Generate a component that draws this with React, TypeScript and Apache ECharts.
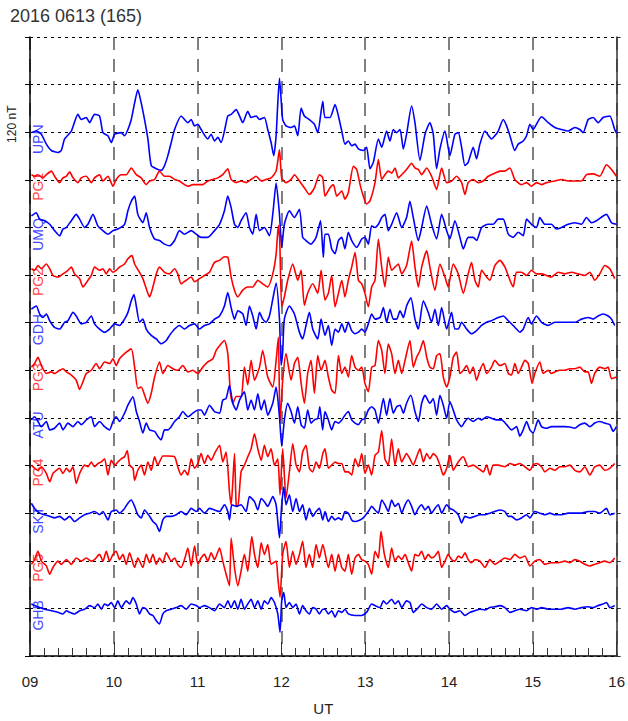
import React, { useEffect, useRef } from "react";
import * as echarts from "echarts";

type Pt = [number, number]; // [minutes after 09:00 UT, deflection in nT]

const TITLE = "2016 0613 (165)";
const SCALE_NT = 120; // nT per grid step
const HOUR_MIN = 9;
const HOUR_MAX = 16;
const ROWS = 13;

const stationNames = ["UPN", "PG1", "UMQ", "PG2", "GDH", "PG3", "ATU", "PG4", "SKT", "PG5", "GHB"];
const stationOffsets = [11, 10, 9, 8, 7, 6, 5, 4, 3, 2, 1];
const stationKinds = ["ground", "pg", "ground", "pg", "ground", "pg", "ground", "pg", "ground", "pg", "ground"];

const upn: Pt[] = [
  [1.0,-1],[4.5,3],[8.1,-5],[11.7,-30],[15.3,-46],[20.0,-51],[22.4,-46],[24.8,-17],[29.6,3],[34.3,45],[36.7,32],[40.3,37],[42.7,24],[46.2,45],[49.8,41],[52.2,-1],[55.8,-9],[58.2,-26],[60.6,-5],[65.3,-1],[67.7,-9],[70.1,7],[72.5,32],[74.9,74],[77.2,107],[79.6,74],[82.0,32],[84.4,-17],[86.8,-84],[90.4,-92],[93.9,-96],[96.3,-84],[98.7,-59],[101.1,-26],[103.5,7],[108.2,41],[110.6,32],[113.0,24],[115.4,32],[117.8,16],[120.2,20],[122.5,7],[127.3,-17],[129.7,-5],[132.1,-22],[134.5,-13],[136.8,-26],[139.2,3],[141.6,41],[144.0,45],[147.6,57],[150.0,41],[152.3,24],[155.9,53],[158.3,37],[161.9,41],[164.3,32],[167.8,37],[170.2,7],[172.6,-26],[174.5,-59],[176.2,-9],[177.4,74],[178.6,136],[179.8,82],[180.9,32],[183.3,16],[186.9,12],[189.3,16],[191.7,-9],[194.1,61],[196.4,41],[200.0,32],[203.6,20],[206.0,-1],[209.6,78],
  [211.2,37],[214.8,37],[218.4,70],[220.8,41],[223.2,3],[225.5,-30],[227.9,-22],[230.3,-34],[232.7,-30],[235.1,-42],[238.6,-46],[241.0,-38],[243.4,-92],[245.8,-76],[249.4,-17],[251.8,-38],[255.3,3],[257.7,-22],[260.1,7],[262.5,-1],[264.9,7],[267.3,-42],[269.6,-5],[273.2,66],[275.6,24],[279.2,-71],[282.8,-5],[286.3,24],[288.7,-5],[291.1,-92],[293.5,-42],[297.1,3],[300.6,-59],[304.2,-5],[306.6,-1],[309.0,-38],[311.4,-84],[313.7,-76],[317.3,-38],[319.7,-67],[322.1,-30],[325.7,3],[330.4,-17],[332.8,-9],[335.2,3],[338.8,32],[341.2,16],[343.6,-9],[347.1,-46],[349.5,-30],[353.1,-22],[355.5,-9],[357.9,20],[360.2,7],[363.8,28],[366.2,39],[371.0,24],[375.7,12],[380.5,7],[385.3,3],[390.0,12],[393.6,7],[396.0,-1],[399.6,32],[403.2,37],[406.7,24],[410.3,37],[415.1,41],[418.6,7],[420.0,-3]
];

const pg1: Pt[] = [
  [1.0,13],[3.3,9],[5.7,13],[9.3,5],[11.7,13],[15.3,22],[17.6,9],[21.2,-7],[23.6,5],[26.0,9],[28.4,20],[30.8,5],[34.3,-7],[36.7,5],[40.3,9],[43.9,-7],[46.2,5],[49.8,13],[52.2,-3],[55.8,9],[59.4,-16],[61.7,1],[65.3,13],[68.9,13],[72.5,30],[76.1,13],[79.6,5],[83.2,-12],[85.6,-3],[89.2,1],[92.7,22],[96.3,9],[99.9,9],[103.5,1],[107.0,-3],[110.6,-12],[113.0,-16],[116.6,-12],[120.2,-12],[123.7,-12],[127.3,-3],[130.9,1],[134.5,5],[138.0,13],[141.6,28],[144.0,1],[147.6,-7],[151.1,-3],[154.7,-7],[158.3,1],[161.9,9],[165.5,-3],[169.0,1],[172.6,5],[176.2,22],[178.6,76],[180.2,5],[183.3,-7],[186.9,1],[189.3,13],[192.9,-3],[196.4,-20],[200.0,-37],[203.6,-20],[207.2,13],[209.6,5],
  [211.2,-41],[214.8,-20],[217.2,-12],[219.6,-41],[223.2,-28],[225.5,-49],[227.9,-32],[231.5,34],[233.9,26],[236.3,-12],[238.6,-41],[241.0,-61],[243.4,-53],[247.0,-7],[249.4,51],[251.8,1],[254.1,13],[256.5,22],[258.9,17],[261.3,30],[263.7,5],[266.1,13],[269.6,26],[273.2,42],[275.6,30],[278.0,26],[280.4,13],[284.0,30],[287.5,9],[291.1,-24],[294.7,30],[298.3,-7],[301.8,-3],[305.4,9],[309.0,-7],[311.4,-37],[313.7,-7],[317.3,1],[320.9,-7],[324.5,-3],[328.0,9],[332.8,17],[336.4,22],[340.0,22],[343.6,30],[347.1,1],[351.9,-12],[355.5,-7],[359.0,-16],[362.6,-7],[366.2,-12],[369.8,-7],[375.7,-3],[380.5,1],[385.3,-3],[390.0,-3],[394.8,-3],[398.4,13],[403.2,15],[407.9,9],[412.7,38],[416.3,26],[419.8,9]
];

const umq: Pt[] = [
  [1.0,29],[4.5,37],[6.9,21],[10.5,17],[14.1,8],[17.6,-8],[21.2,-21],[23.6,-4],[26.0,0],[29.6,17],[33.1,33],[35.5,21],[39.1,0],[41.5,8],[45.1,33],[48.6,4],[52.2,-8],[55.8,-17],[59.4,-8],[62.9,-4],[67.7,8],[70.1,42],[72.5,66],[74.9,79],[77.2,33],[80.8,12],[83.2,37],[85.6,0],[89.2,-29],[92.7,-33],[96.3,-42],[99.9,-46],[103.5,-33],[107.0,-8],[110.6,-17],[115.4,-8],[119.0,-17],[122.5,-25],[127.3,-25],[132.1,-8],[135.7,8],[139.2,42],[141.6,79],[144.0,50],[146.4,8],[148.8,0],[151.1,17],[154.7,37],[157.1,0],[159.5,-17],[161.9,33],[164.3,-8],[167.8,0],[171.4,-21],[173.8,33],[176.2,112],[178.6,33],[180.2,-50],[182.1,8],[185.7,42],[189.3,25],[192.9,46],[195.2,-25],[197.6,-33],[201.2,-42],[204.8,-25],[208.0,17],[210.0,-75],
  [211.2,-17],[213.6,-17],[216.0,-54],[218.4,-66],[220.8,-33],[223.2,-25],[225.5,-54],[227.9,-12],[230.3,-33],[233.9,-50],[237.5,-29],[239.8,-25],[242.2,-42],[244.6,4],[247.0,0],[249.4,8],[251.8,25],[254.1,33],[256.5,-8],[258.9,8],[262.5,37],[266.1,0],[269.6,25],[272.0,66],[274.4,25],[278.0,-33],[280.4,0],[284.0,54],[287.5,8],[291.1,-29],[294.7,33],[298.3,-8],[300.6,-29],[304.2,17],[307.8,-25],[310.2,-54],[313.7,-25],[317.3,-25],[319.7,-33],[323.3,0],[328.0,8],[331.6,8],[335.2,21],[338.8,21],[342.4,-17],[345.9,-25],[349.5,-12],[353.1,-21],[355.5,21],[359.0,8],[362.6,0],[365.0,25],[368.6,8],[373.3,8],[376.9,-4],[380.5,0],[385.3,8],[390.0,12],[394.8,8],[398.4,25],[402.0,12],[405.5,17],[410.3,29],[412.7,33],[416.3,12],[419.8,8]
];

const pg2: Pt[] = [
  [1.0,16],[3.3,12],[5.7,24],[8.1,16],[11.7,28],[14.1,16],[16.4,-1],[20.0,-5],[23.6,3],[27.2,12],[29.6,20],[31.9,3],[35.5,-9],[37.9,-30],[41.5,-13],[43.9,-1],[46.2,20],[49.8,12],[52.2,16],[54.6,3],[57.0,16],[59.4,7],[61.7,12],[64.1,20],[67.7,28],[70.1,41],[73.0,49],[74.9,28],[78.4,7],[80.8,-9],[83.2,-34],[85.6,-55],[88.0,-30],[90.4,3],[92.7,20],[96.3,7],[99.9,3],[103.5,16],[105.8,3],[108.2,-22],[111.8,-13],[115.4,-5],[117.8,-17],[121.3,-9],[124.9,-1],[128.5,7],[132.1,32],[135.7,37],[139.2,46],[141.6,45],[144.0,-5],[146.4,-38],[148.8,-55],[152.3,-38],[155.9,-30],[159.5,-30],[163.1,-13],[166.6,-22],[170.2,-30],[173.8,3],[176.2,53],[177.8,125],[178.8,86],[180.2,-80],[182.1,-55],[184.5,-13],[188.1,28],[191.7,-13],[194.1,12],[196.4,-76],[198.8,-46],[202.4,-22],[206.0,-46],[208.4,12],
  [211.2,-63],[213.6,-46],[216.0,-1],[218.4,-80],[220.8,-46],[223.2,-13],[225.5,-55],[227.9,-13],[230.3,20],[232.7,57],[235.1,-13],[237.5,-22],[239.8,-46],[242.2,-80],[244.6,-30],[247.0,-13],[249.4,90],[251.8,20],[254.1,-30],[256.5,45],[258.9,12],[261.3,20],[263.7,28],[266.1,3],[269.6,24],[273.2,86],[275.6,20],[278.0,-30],[280.4,20],[284.0,61],[286.3,20],[289.9,-38],[293.5,28],[297.1,-5],[299.4,-30],[303.0,28],[306.6,3],[310.2,-46],[313.7,3],[316.1,32],[318.5,-13],[320.9,-30],[323.3,12],[326.9,-5],[329.2,-13],[332.8,24],[336.4,37],[340.0,20],[343.6,-13],[345.9,-30],[348.3,7],[351.9,7],[355.5,-1],[359.0,12],[362.6,3],[366.2,3],[369.8,-1],[373.3,-5],[378.1,7],[382.9,3],[387.7,7],[392.4,3],[397.2,-1],[400.8,7],[404.3,-13],[407.9,3],[411.5,24],[415.1,16],[418.6,-9]
];

const gdh: Pt[] = [
  [1.0,34],[4.5,42],[6.9,22],[9.3,13],[11.7,22],[14.1,5],[17.6,-12],[21.2,-16],[24.8,1],[27.2,5],[30.8,26],[33.1,17],[36.7,-3],[40.3,1],[43.9,17],[46.2,-3],[49.8,-16],[53.4,-24],[57.0,-16],[60.6,-3],[64.1,-7],[67.7,9],[70.1,26],[72.5,55],[74.4,71],[76.1,42],[78.4,1],[80.8,9],[83.2,-16],[86.8,-32],[90.4,-41],[93.9,-53],[97.5,-45],[99.9,-32],[103.5,-16],[107.0,-7],[110.6,-16],[114.2,-7],[117.8,-3],[121.3,-16],[124.9,-7],[128.5,-3],[132.1,9],[135.7,17],[139.2,42],[141.6,76],[144.0,38],[146.4,9],[148.8,30],[152.3,22],[154.7,-7],[157.1,42],[159.5,17],[161.9,-16],[164.3,26],[166.6,9],[169.0,1],[171.4,17],[173.8,59],[176.2,100],[178.6,9],[179.8,-107],[180.9,-74],[182.1,9],[185.7,42],[189.3,22],[192.9,-24],[195.2,-41],[197.6,-7],[200.0,26],[202.4,-16],[206.0,-41],[208.4,9],
  [211.2,-32],[213.6,-7],[216.0,-57],[218.4,-16],[220.8,-24],[223.2,-3],[225.5,-24],[227.9,1],[230.3,-20],[232.7,-28],[235.1,-24],[237.5,-16],[239.8,-24],[242.2,-3],[244.6,22],[247.0,9],[250.6,13],[253.0,38],[255.3,1],[257.7,34],[260.1,9],[262.5,9],[264.9,30],[267.3,13],[269.6,42],[272.7,63],[275.6,9],[278.0,-16],[281.6,55],[285.1,26],[287.5,1],[289.9,34],[292.3,-7],[294.7,38],[298.3,-16],[301.8,26],[304.2,-16],[306.6,-16],[309.0,1],[312.6,-16],[316.1,-28],[319.7,-20],[323.3,-7],[326.9,1],[330.4,5],[335.2,13],[338.8,17],[342.4,5],[345.9,-7],[348.3,-16],[350.7,-24],[353.1,-16],[356.7,13],[359.0,-3],[362.6,17],[366.2,1],[371.0,-7],[375.7,1],[380.5,1],[385.3,1],[390.0,1],[394.8,9],[399.6,13],[403.2,9],[406.7,17],[410.3,22],[413.9,17],[416.3,9],[418.6,-7]
];

const pg3: Pt[] = [
  [1.0,8],[3.3,17],[5.7,33],[8.1,12],[11.7,-8],[15.3,-4],[17.6,-8],[21.2,0],[23.6,4],[26.0,-4],[29.6,-12],[33.1,-25],[35.5,-48],[37.9,-29],[40.3,-8],[43.9,0],[47.4,17],[49.8,4],[53.4,21],[57.0,17],[59.4,29],[61.7,12],[64.1,29],[67.7,42],[72.5,54],[74.9,8],[77.2,-46],[79.6,-42],[82.0,-62],[84.4,-83],[86.8,-58],[89.2,-17],[92.7,21],[95.1,-8],[98.7,12],[102.3,4],[105.8,0],[109.4,12],[113.0,-4],[116.6,0],[120.2,-8],[123.7,8],[127.3,21],[130.9,29],[133.3,50],[135.7,62],[139.2,75],[141.6,42],[143.5,-58],[145.2,-83],[147.6,-66],[151.1,-66],[153.5,8],[155.9,-37],[158.3,25],[160.7,-25],[164.3,8],[166.6,50],[170.2,-17],[173.8,-42],[176.2,25],[177.8,83],[179.0,-133],[180.9,-25],[183.3,42],[186.9,-25],[189.3,17],[191.7,33],[194.1,-33],[196.4,-83],[198.8,-8],[201.2,25],[203.6,-58],[206.0,37],[208.4,0],
  [211.2,25],[213.6,-17],[216.0,-50],[218.4,-58],[220.8,37],[223.2,-8],[225.5,8],[227.9,-17],[230.3,37],[232.7,8],[235.1,0],[237.5,8],[239.8,-33],[242.2,-54],[244.6,8],[247.0,12],[249.4,75],[251.8,50],[254.1,-8],[256.5,66],[258.9,42],[261.3,-8],[263.7,25],[266.1,-8],[268.5,25],[272.0,75],[274.4,8],[276.8,33],[279.2,50],[281.6,75],[284.0,33],[286.3,8],[288.7,4],[291.1,37],[293.5,42],[295.9,-17],[298.3,-42],[300.6,-17],[303.0,33],[305.4,46],[307.8,-8],[310.2,0],[312.6,12],[314.9,-8],[317.3,8],[319.7,-25],[322.1,0],[324.5,17],[326.9,-8],[330.4,8],[332.8,25],[336.4,12],[340.0,17],[342.4,-8],[344.7,-12],[347.1,17],[349.5,-8],[351.9,8],[354.3,25],[356.7,17],[359.5,-33],[361.4,-8],[365.0,21],[367.4,-8],[371.0,0],[373.3,-8],[375.7,-4],[379.3,0],[382.9,0],[386.5,4],[390.0,4],[393.6,8],[397.2,-4],[399.6,-4],[402.0,-33],[404.3,-8],[407.9,8],[411.5,4],[413.9,8],[416.3,-21],[419.8,-17]
];

const atu: Pt[] = [
  [1.0,-5],[3.3,3],[5.7,-9],[8.1,-22],[11.7,-9],[14.1,-30],[17.6,-26],[21.2,-13],[23.6,-30],[27.2,-13],[30.8,-22],[34.3,-9],[36.7,-17],[40.3,-5],[43.9,3],[46.2,-22],[49.8,-9],[53.4,-22],[57.0,-30],[59.4,-9],[61.7,3],[64.1,-9],[67.7,12],[70.1,32],[73.7,53],[76.1,16],[78.4,-9],[80.8,-38],[83.2,-13],[85.6,-30],[89.2,-34],[91.5,-46],[93.9,-55],[96.3,-30],[98.7,-30],[101.1,-22],[103.5,-9],[107.0,3],[109.4,16],[113.0,3],[116.6,12],[120.2,20],[122.5,20],[124.9,7],[128.5,32],[132.1,16],[135.7,12],[138.0,45],[140.4,49],[142.8,82],[145.2,37],[147.6,20],[150.0,45],[153.5,66],[155.9,20],[158.3,45],[160.7,20],[163.1,61],[165.5,20],[167.8,45],[170.2,7],[173.8,37],[176.2,78],[178.6,3],[180.2,-71],[182.1,-5],[184.5,37],[186.9,16],[189.3,-13],[191.7,28],[194.1,-17],[196.4,-26],[198.8,20],[201.2,-13],[203.6,-5],[206.0,-1],[207.5,28],[209.5,-30],
  [211.2,16],[213.6,-5],[216.0,-30],[218.4,-9],[220.8,-13],[223.2,-5],[225.5,7],[227.9,16],[230.3,-5],[232.7,-13],[235.1,-17],[237.5,-5],[239.8,-1],[242.2,20],[244.6,28],[247.0,20],[249.4,-13],[253.0,49],[255.3,7],[257.7,49],[260.1,12],[262.5,28],[264.9,32],[267.3,12],[269.6,37],[272.7,57],[275.6,16],[278.0,-9],[280.4,37],[282.8,57],[286.3,37],[288.7,49],[291.1,7],[293.5,57],[295.9,32],[298.3,-1],[300.6,41],[303.0,20],[305.4,-5],[309.0,-22],[311.4,-9],[313.7,-1],[317.3,-9],[320.9,-1],[323.3,-5],[326.9,3],[330.4,-1],[334.0,-5],[337.6,-5],[341.2,-17],[344.7,-30],[348.3,-22],[350.7,-46],[353.1,-30],[355.5,-9],[357.9,-30],[360.2,-38],[363.8,-5],[366.2,-22],[369.8,-26],[373.3,-22],[378.1,-22],[382.9,-22],[386.5,-23],[390.0,-26],[393.6,-17],[397.2,-13],[400.8,-22],[404.3,-13],[407.9,-9],[411.5,-13],[415.1,-17],[417.5,-34],[419.8,-22]
];

const pg4: Pt[] = [
  [1.0,1],[3.3,-7],[5.7,-12],[8.1,-3],[11.7,-20],[14.1,-41],[16.4,-20],[18.8,-12],[21.2,-7],[23.6,-20],[26.0,-7],[28.4,-16],[30.8,-3],[33.1,-45],[35.5,-20],[39.1,1],[41.5,-3],[43.9,9],[46.2,-3],[48.6,5],[51.0,9],[53.4,17],[55.8,-24],[58.2,13],[60.6,1],[62.9,9],[65.3,17],[67.7,22],[69.6,38],[71.3,1],[73.7,-7],[74.9,-37],[77.2,-12],[79.6,1],[82.0,-24],[84.4,9],[86.8,-12],[89.2,22],[91.5,1],[95.1,24],[98.7,24],[103.5,22],[105.8,-3],[108.2,-24],[110.6,-12],[113.0,-24],[115.4,17],[117.8,-7],[120.2,5],[122.5,30],[124.9,5],[127.3,26],[129.7,13],[132.1,30],[135.7,51],[138.0,9],[140.4,34],[142.8,-66],[144.0,-99],[145.2,-41],[146.4,30],[147.6,-99],[148.8,-103],[151.1,-16],[153.5,1],[155.9,22],[158.3,42],[160.7,80],[163.1,42],[165.5,13],[167.8,51],[170.2,22],[172.6,42],[175.0,1],[177.4,17],[179.0,-74],[180.9,42],[183.3,-82],[185.7,-16],[188.1,55],[190.5,1],[192.9,-16],[195.2,34],[197.6,51],[200.0,-7],[202.4,-16],[204.8,9],[207.2,-7],[209.6,30],
  [211.2,42],[213.6,-7],[216.0,1],[218.4,9],[220.8,5],[223.2,5],[225.5,-16],[227.9,-16],[230.3,-24],[232.7,17],[235.1,-3],[237.5,30],[239.8,-20],[242.2,1],[244.6,-24],[247.0,26],[249.4,34],[251.8,88],[254.1,17],[256.5,1],[258.9,67],[261.3,1],[263.7,42],[266.1,9],[269.6,30],[272.0,17],[274.4,1],[276.8,22],[279.2,42],[281.6,9],[284.0,30],[286.3,17],[288.7,30],[291.1,22],[293.5,1],[295.9,-24],[298.3,-7],[300.6,26],[303.0,-12],[306.6,9],[310.2,22],[313.7,-3],[317.3,1],[320.9,-7],[324.5,-16],[326.9,1],[329.2,-24],[331.6,1],[335.2,1],[340.0,-3],[343.6,5],[347.1,1],[350.7,5],[354.3,-3],[357.9,-12],[360.2,1],[362.6,5],[366.2,-3],[368.6,-16],[372.2,-7],[375.7,-12],[379.3,-3],[382.9,-3],[386.5,1],[390.0,-12],[393.6,-16],[397.2,-3],[400.8,-24],[404.3,-3],[407.9,1],[411.5,-12],[415.1,-7],[418.6,5]
];

const skt: Pt[] = [
  [1.0,25],[3.3,12],[6.9,0],[10.5,-4],[14.1,-8],[17.6,-12],[21.2,-8],[24.8,-17],[28.4,-8],[31.9,-21],[35.5,-12],[39.1,-4],[42.7,0],[46.2,4],[49.8,-4],[52.2,4],[55.8,-17],[58.2,4],[61.7,8],[64.1,0],[67.7,12],[70.1,25],[72.5,33],[74.9,17],[77.2,-4],[79.6,-12],[82.0,8],[85.6,-8],[88.0,-21],[90.4,-29],[92.7,-46],[95.1,-17],[97.5,-8],[101.1,-8],[104.7,-4],[108.2,4],[111.8,-4],[115.4,12],[119.0,4],[121.3,12],[124.9,0],[128.5,12],[132.1,8],[135.7,4],[139.2,21],[141.6,4],[142.8,-17],[144.5,21],[147.6,17],[151.1,21],[154.7,4],[157.1,42],[160.7,29],[163.1,8],[165.5,37],[167.8,29],[170.2,17],[173.8,42],[176.2,21],[178.6,-62],[180.2,21],[181.7,66],[183.3,21],[185.7,46],[188.1,4],[190.5,37],[192.9,4],[195.2,21],[197.6,-17],[200.0,12],[202.4,-8],[204.8,4],[207.2,12],[209.6,-17],
  [211.2,4],[213.6,-21],[216.0,-8],[218.4,-17],[220.8,-12],[223.2,-17],[225.5,4],[227.9,0],[230.3,-17],[232.7,-21],[236.3,-17],[238.6,-12],[242.2,4],[244.6,17],[247.0,8],[249.4,0],[251.8,33],[254.1,21],[256.5,4],[258.9,33],[261.3,17],[263.7,25],[266.1,0],[268.5,21],[270.8,33],[273.2,17],[275.6,-4],[278.0,12],[280.4,21],[282.8,8],[285.1,17],[287.5,0],[289.9,12],[292.3,21],[294.7,0],[298.3,21],[300.6,12],[303.0,8],[306.6,-4],[309.0,-25],[311.4,-8],[314.9,-12],[318.5,-8],[322.1,-4],[325.7,-4],[329.2,0],[332.8,4],[336.4,8],[340.0,4],[342.4,-8],[344.7,-8],[348.3,-17],[351.9,-12],[355.5,-4],[357.9,-12],[361.4,4],[365.0,0],[368.6,-4],[372.2,0],[375.7,-4],[380.5,-4],[385.3,0],[390.0,0],[394.8,0],[399.6,4],[404.3,4],[407.9,0],[412.7,12],[415.1,-4],[418.6,0]
];

const pg5: Pt[] = [
  [1.0,-9],[3.3,3],[5.7,24],[8.1,-1],[11.7,-13],[14.1,-34],[16.4,-17],[20.0,-1],[22.4,-9],[26.0,3],[29.6,-9],[33.1,7],[36.7,-1],[40.3,7],[43.9,-1],[46.2,3],[49.8,16],[52.2,-1],[54.6,24],[57.0,-1],[59.4,16],[61.7,24],[64.1,3],[66.5,16],[68.9,-9],[71.3,20],[74.9,-17],[77.2,7],[80.8,-17],[83.2,16],[85.6,-5],[88.0,16],[90.4,-9],[92.7,7],[95.1,-5],[97.5,20],[101.1,-1],[103.5,7],[105.8,-9],[108.2,-17],[110.6,3],[113.0,32],[115.4,-13],[117.8,37],[120.2,-9],[122.5,7],[124.9,16],[127.3,-1],[129.7,20],[132.1,3],[135.7,32],[138.0,-1],[140.4,-34],[142.8,-63],[144.0,57],[146.4,-17],[148.8,-63],[151.1,-26],[153.5,16],[155.9,-26],[158.8,61],[160.7,16],[163.1,-17],[165.5,45],[167.8,16],[170.2,41],[172.6,-9],[176.2,-1],[177.4,-42],[179.0,-92],[180.9,16],[183.3,49],[185.7,-17],[188.1,24],[190.5,-9],[192.9,16],[195.2,49],[197.6,-17],[200.0,16],[202.4,-17],[204.8,41],[207.2,7],[209.6,41],
  [213.6,-17],[216.0,16],[218.4,-26],[220.8,16],[223.2,-17],[225.5,-26],[227.9,16],[230.3,-34],[232.7,7],[235.1,16],[237.5,3],[239.8,-1],[242.2,-9],[244.6,-34],[247.0,24],[249.4,7],[251.3,74],[253.7,16],[256.5,-17],[258.9,32],[261.3,-1],[263.7,12],[266.1,3],[268.5,16],[270.8,-5],[273.2,-26],[275.6,16],[278.0,12],[280.4,24],[282.8,3],[285.1,16],[287.5,7],[289.9,12],[292.3,24],[294.7,-17],[297.1,-1],[299.4,16],[301.8,3],[304.2,-1],[306.6,12],[309.0,7],[311.4,20],[313.7,3],[316.1,-5],[318.5,3],[322.1,-1],[325.7,-17],[329.2,3],[332.8,-9],[336.4,-1],[340.0,7],[343.6,3],[347.1,16],[350.7,7],[354.3,12],[357.9,-13],[361.4,-1],[365.0,3],[368.6,-9],[373.3,-5],[378.1,-5],[382.9,-1],[386.5,-5],[390.0,3],[393.6,-1],[397.2,-9],[400.8,-13],[404.3,-9],[407.9,-5],[411.5,-1],[415.1,-5],[418.6,7]
];

const ghb: Pt[] = [
  [1.0,11],[3.3,7],[6.9,2],[10.5,-2],[15.3,-6],[20.0,-10],[23.6,-14],[26.0,-6],[28.4,-10],[31.9,-14],[35.5,-6],[39.1,-2],[42.7,7],[46.2,2],[48.6,11],[51.0,-2],[53.4,11],[55.8,7],[58.2,15],[60.6,2],[62.9,19],[65.3,2],[68.9,19],[71.3,11],[73.7,27],[76.1,11],[78.4,-14],[80.8,2],[83.2,-2],[85.6,-14],[88.0,-18],[90.4,-31],[92.7,-39],[95.1,-14],[97.5,-6],[101.1,-2],[104.7,2],[108.2,7],[111.8,-2],[115.4,11],[119.0,7],[121.3,2],[124.9,7],[128.5,2],[132.1,-6],[135.7,11],[139.2,2],[141.6,19],[144.0,2],[146.4,19],[148.8,-2],[151.1,23],[153.5,-2],[155.9,11],[158.3,23],[160.7,2],[163.1,19],[165.5,-2],[167.8,19],[170.2,11],[172.6,27],[175.0,15],[177.4,-14],[179.0,-60],[180.2,19],[181.7,40],[183.3,2],[185.7,15],[188.1,2],[190.5,11],[192.9,-14],[195.2,7],[197.6,-6],[200.0,-14],[202.4,2],[204.8,-2],[207.2,-14],[209.6,-2],
  [211.2,-2],[213.6,-14],[216.0,-6],[218.4,-22],[220.8,-6],[223.2,-10],[225.5,-2],[227.9,-14],[232.7,-18],[237.5,-18],[241.0,-10],[244.6,11],[247.0,7],[250.6,2],[253.0,19],[255.3,11],[258.9,23],[261.3,11],[263.7,19],[266.1,2],[269.6,19],[272.0,15],[274.4,-10],[278.0,2],[280.4,11],[284.0,2],[287.5,-2],[291.1,11],[294.7,-2],[298.3,7],[300.6,-2],[304.2,-10],[307.8,-6],[311.4,-18],[314.9,-10],[318.5,-6],[322.1,-2],[325.7,-4],[329.2,2],[332.8,4],[336.4,7],[340.0,2],[343.6,-10],[347.1,-6],[350.7,-2],[355.5,-6],[359.0,2],[362.6,-2],[366.2,2],[371.0,-2],[375.7,-2],[380.5,-2],[385.3,2],[390.0,-2],[394.8,2],[399.6,4],[403.2,2],[406.7,7],[410.3,11],[412.7,15],[415.1,2],[418.6,7]
];

const stationData: Pt[][] = [upn, pg1, umq, pg2, gdh, pg3, atu, pg4, skt, pg5, ghb];

const FONT = "'Liberation Sans', Arial, Helvetica, sans-serif";
const LINE_COLORS: Record<string, string> = { ground: "#0000ff", pg: "#ff0000" };
const LABEL_COLORS: Record<string, string> = { ground: "#4646ff", pg: "#ff4646" };

export default function App() {
  const ref = useRef<HTMLDivElement>(null);

  useEffect(() => {
    document.body.style.margin = "0";
    if (!ref.current) return;
    const chart = echarts.init(ref.current, undefined, { renderer: "svg" });

    const series = stationData.map((pts, i) => ({
      type: "line" as const,
      name: stationNames[i],
      data: pts.map(([m, v]) => [HOUR_MIN + m / 60, stationOffsets[i] + v / SCALE_NT]),
      showSymbol: false,
      symbol: "none",
      smooth: 0.2,
      clip: true,
      lineStyle: { color: LINE_COLORS[stationKinds[i]], width: 1.6 },
      z: 3,
    }));

    const yAxisBase = {
      type: "value" as const,
      min: 0,
      max: ROWS,
      interval: 1,
      axisLabel: { show: false },
    };

    chart.setOption({
      animation: false,
      backgroundColor: "#ffffff",
      grid: { left: 30, right: 11, top: 37, bottom: 58, containLabel: false },
      xAxis: {
        type: "value",
        min: HOUR_MIN,
        max: HOUR_MAX,
        interval: 1,
        axisLine: { show: true, lineStyle: { color: "#000", width: 1.5 } },
        axisTick: { show: true, inside: true, length: 14, lineStyle: { color: "#333", width: 1 } },
        minorTick: { show: true, splitNumber: 6, length: 8, lineStyle: { color: "#333", width: 1 } },
        axisLabel: {
          formatter: (v: number) => (v < 10 ? "0" : "") + v,
          fontSize: 15,
          fontFamily: FONT,
          color: "#222",
          margin: 18,
        },
        splitLine: { show: true, lineStyle: { color: "#555", width: 1.5, type: [13, 9] } },
        name: "UT",
        nameLocation: "middle",
        nameGap: 45,
        nameTextStyle: { fontSize: 15, fontFamily: FONT, color: "#222" },
      },
      yAxis: [
        {
          ...yAxisBase,
          position: "left",
          axisLine: { show: true, lineStyle: { color: "#000", width: 1.5 } },
          axisTick: { show: true, inside: false, length: 5, lineStyle: { color: "#000", width: 1 } },
          splitLine: { show: true, lineStyle: { color: "#000", width: 1, type: [3, 4] } },
        },
        {
          ...yAxisBase,
          position: "right",
          axisLine: { show: true, lineStyle: { color: "#333", width: 1.5 } },
          axisTick: { show: true, inside: false, length: 4, lineStyle: { color: "#333", width: 1 } },
          splitLine: { show: false },
        },
      ],
      series,
    });

    // Station names and scale label, placed through the y axis scale
    const labelX = chart.convertToPixel({ xAxisIndex: 0 }, HOUR_MIN) as number;
    const stationLabels = stationNames.map((name, i) => {
      const y = chart.convertToPixel({ yAxisIndex: 0 }, stationOffsets[i]) as number;
      return {
        type: "text",
        x: labelX + 8,
        y: y + 7,
        rotation: Math.PI / 2,
        z: 1,
        style: {
          text: name,
          fill: LABEL_COLORS[stationKinds[i]],
          font: `14px ${FONT}`,
          align: "center",
          verticalAlign: "middle",
        },
      };
    });
    const scaleY = chart.convertToPixel({ yAxisIndex: 0 }, 11) as number;

    chart.setOption({
      graphic: [
        {
          type: "text",
          left: 10,
          top: 7,
          style: { text: TITLE, fill: "#333", font: `18px ${FONT}` },
        },
        {
          type: "text",
          x: 12,
          y: scaleY - 8,
          rotation: Math.PI / 2,
          style: {
            text: `${SCALE_NT} nT`,
            fill: "#222",
            font: `12px ${FONT}`,
            align: "center",
            verticalAlign: "middle",
          },
        },
        ...stationLabels,
      ],
    });

    return () => chart.dispose();
  }, []);

  return (
    <div
      ref={ref}
      style={{ position: "fixed", left: 0, top: 0, width: 628, height: 721, background: "#fff" }}
    />
  );
}
